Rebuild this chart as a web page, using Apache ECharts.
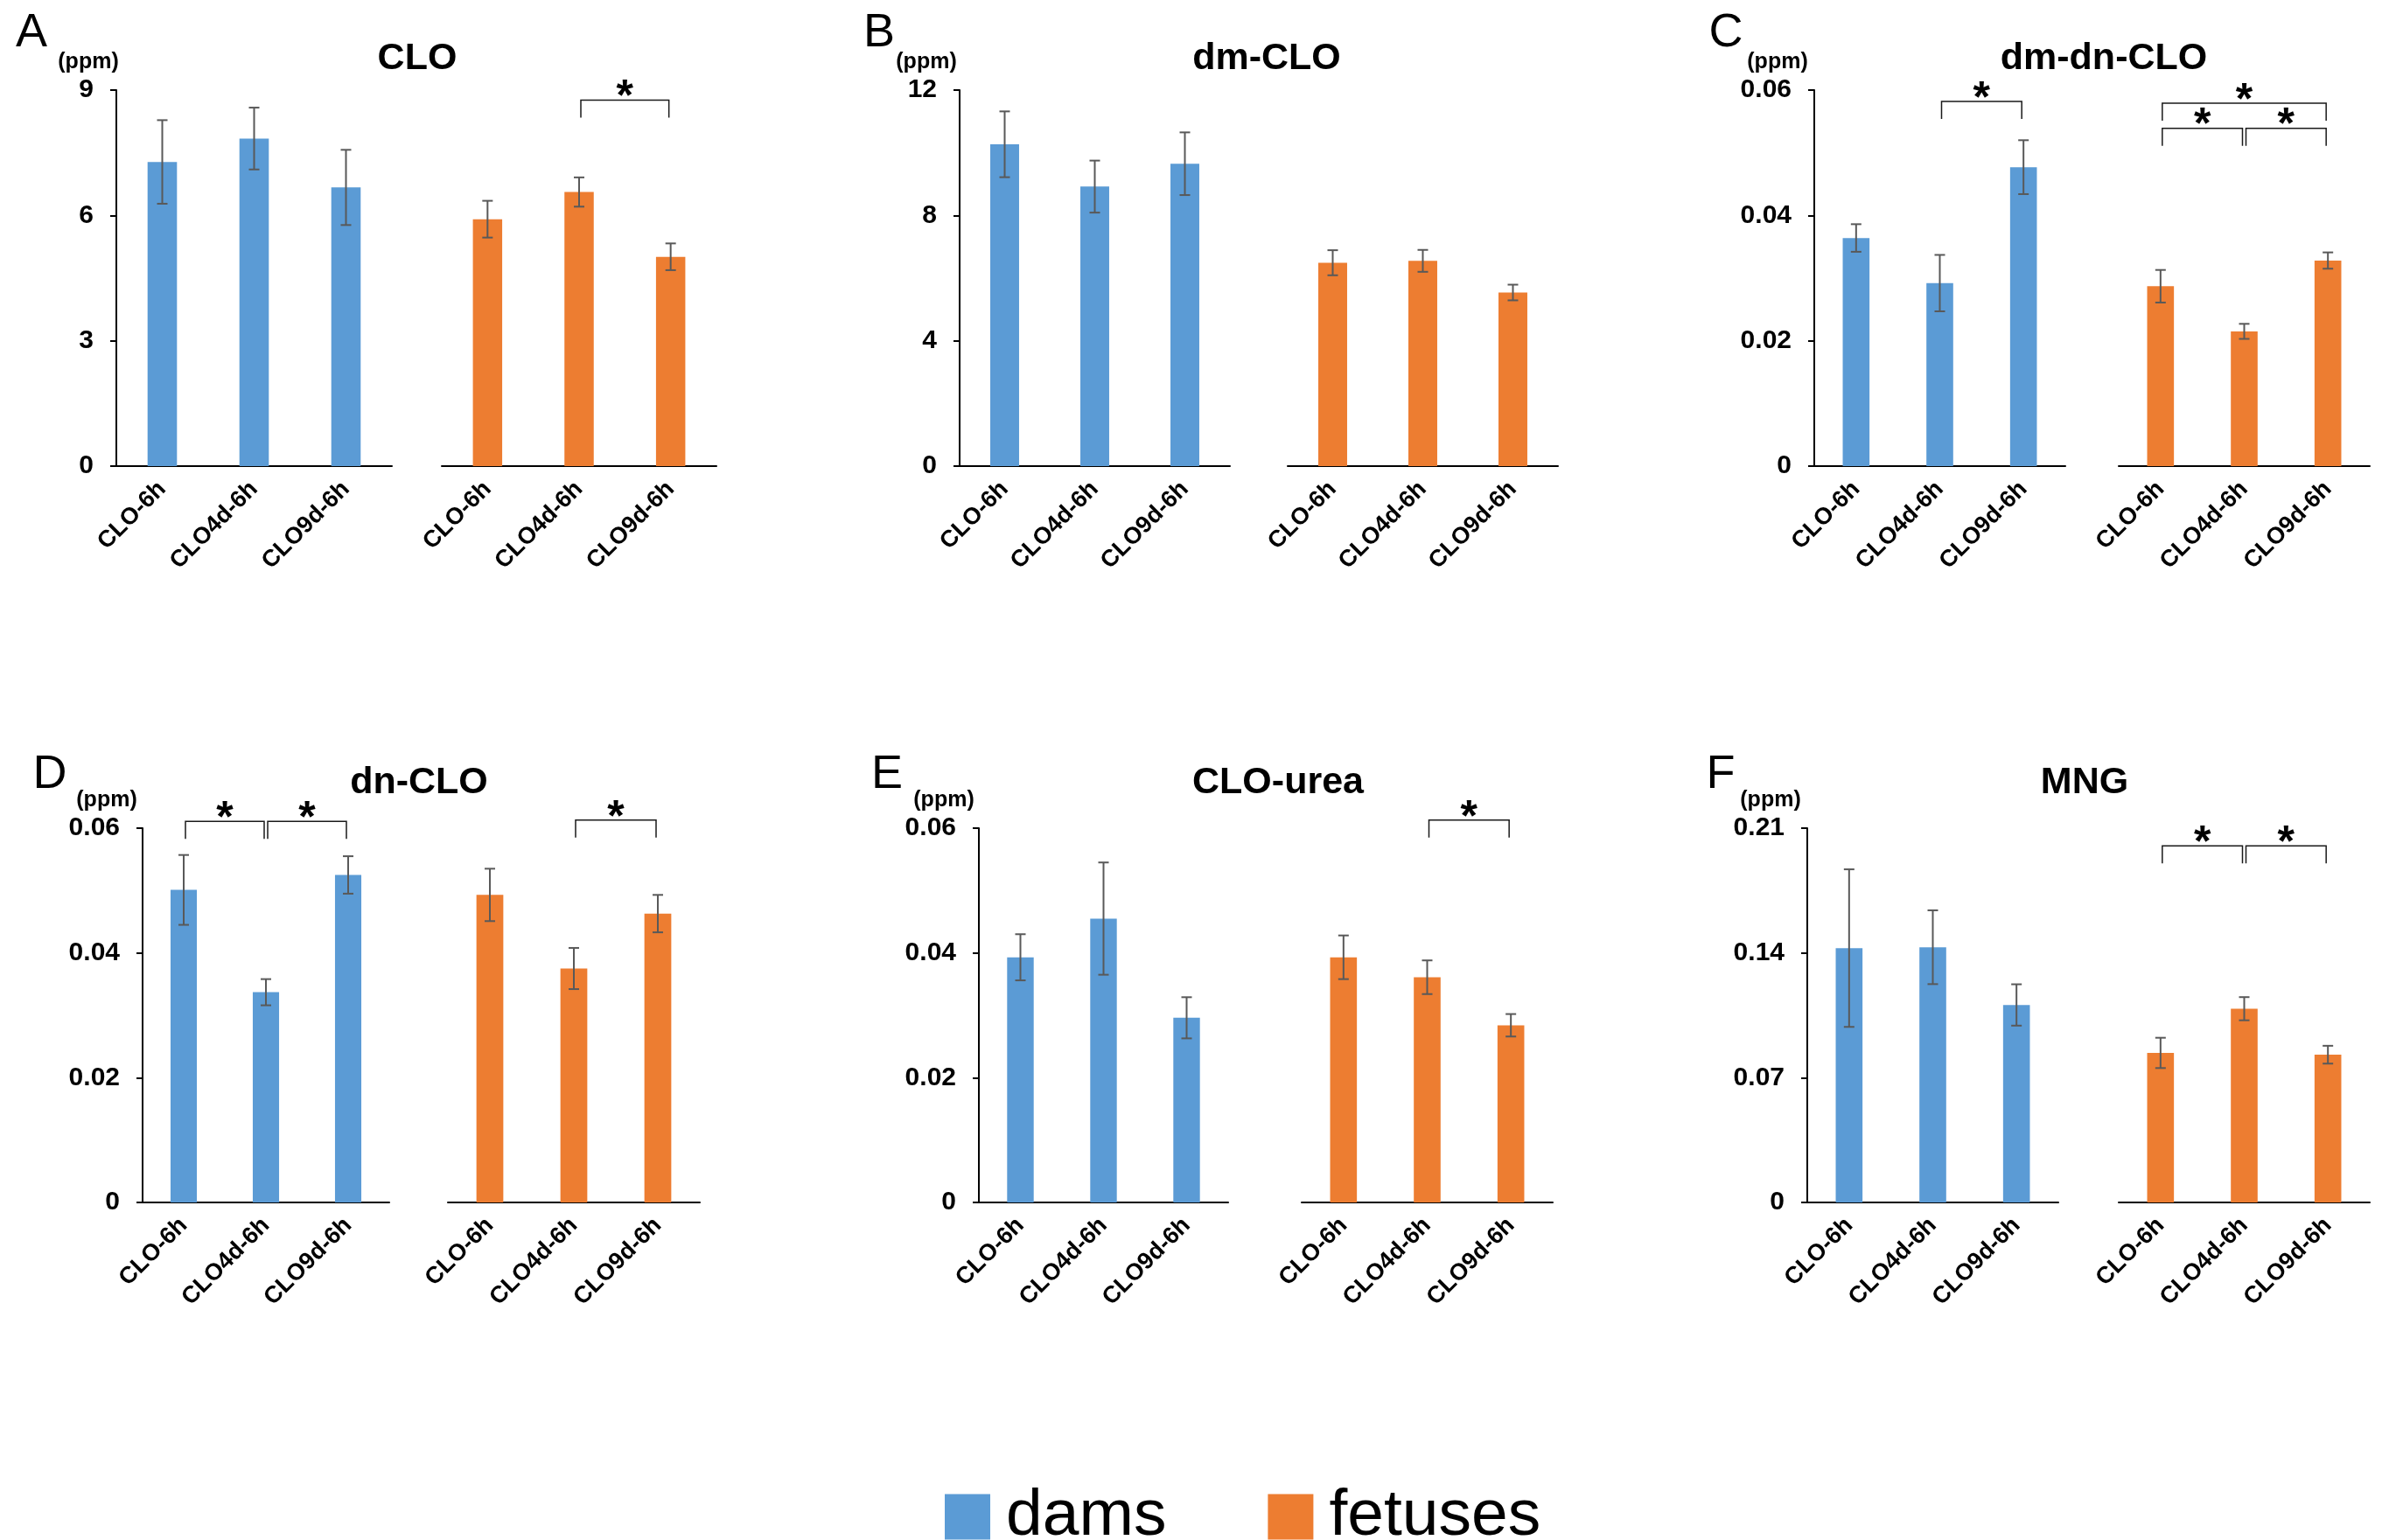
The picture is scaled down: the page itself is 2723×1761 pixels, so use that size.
<!DOCTYPE html>
<html>
<head>
<meta charset="utf-8">
<title>CLO metabolites in dams and fetuses</title>
<script src="https://cdn.jsdelivr.net/npm/echarts@6/dist/echarts.min.js"></script>
<style>
  html, body { margin: 0; padding: 0; background: #ffffff; }
  #chart { width: 2723px; height: 1761px; }
</style>
</head>
<body>
<div id="chart"></div>
<script>
// Groups on every x axis
const categories = ['CLO-6h', 'CLO4d-6h', 'CLO9d-6h'];
const groupNames = ['dams', 'fetuses'];

// Axis ranges (ppm): upper limit and tick step per panel
const axisMax  = [9, 12, 0.06, 0.06, 0.06, 0.21];
const axisStep = [3, 4, 0.02, 0.02, 0.02, 0.07];

// Panel titles and letters
const panelTitles  = ['CLO', 'dm-CLO', 'dm-dn-CLO', 'dn-CLO', 'CLO-urea', 'MNG'];
const panelLetters = ['A', 'B', 'C', 'D', 'E', 'F'];

// Means and error (ppm)
const cloDams        = [7.28, 7.84, 6.67];
const cloDamsErr     = [1.00, 0.74, 0.90];
const cloFetuses     = [5.91, 6.56, 5.01];
const cloFetusesErr  = [0.44, 0.35, 0.32];

const dmCloDams       = [10.27, 8.92, 9.65];
const dmCloDamsErr    = [1.05, 0.83, 1.00];
const dmCloFetuses    = [6.49, 6.55, 5.54];
const dmCloFetusesErr = [0.40, 0.35, 0.25];

const dmDnCloDams       = [0.0364, 0.0292, 0.0477];
const dmDnCloDamsErr    = [0.0022, 0.0045, 0.0043];
const dmDnCloFetuses    = [0.0287, 0.0215, 0.0328];
const dmDnCloFetusesErr = [0.0026, 0.0012, 0.0013];

const dnCloDams       = [0.0501, 0.0337, 0.0525];
const dnCloDamsErr    = [0.0056, 0.0021, 0.0030];
const dnCloFetuses    = [0.0493, 0.0375, 0.0463];
const dnCloFetusesErr = [0.0042, 0.0033, 0.0030];

const ureaDams       = [0.0393, 0.0455, 0.0296];
const ureaDamsErr    = [0.0037, 0.0090, 0.0033];
const ureaFetuses    = [0.0393, 0.0361, 0.0284];
const ureaFetusesErr = [0.0035, 0.0027, 0.0018];

const mngDams       = [0.1427, 0.1432, 0.1108];
const mngDamsErr    = [0.0442, 0.0207, 0.0116];
const mngFetuses    = [0.0839, 0.1087, 0.0829];
const mngFetusesErr = [0.0085, 0.0065, 0.0050];

// Significance brackets: [from group, to group, bracket height in ppm]
const cloFetusesSig     = [[1, 2, 8.76]];
const dmDnCloDamsSig    = [[1, 2, 0.0582]];
const dmDnCloFetusesSig = [[0, 2, 0.0579], [0, 1, 0.0539], [1, 2, 0.0539]];
const dnCloDamsSig      = [[0, 1, 0.0611], [1, 2, 0.0611]];
const dnCloFetusesSig   = [[1, 2, 0.0613]];
const ureaFetusesSig    = [[1, 2, 0.0613]];
const mngFetusesSig     = [[0, 1, 0.2001], [1, 2, 0.2001]];

const BLUE = '#5B9BD5';
const ORANGE = '#ED7D31';
const FONT = "'Liberation Sans', Arial, Helvetica, sans-serif";

// Where each panel sits on the page
const layouts = [
  { dams: [133, 315], fet: [505, 314], top: 103, h: 430, letter: [36, 38],   ppm: [101, 71],   title: [477, 67] },
  { dams: [1097, 309], fet: [1472, 309], top: 103, h: 430, letter: [1005, 38], ppm: [1059, 71],  title: [1448, 67] },
  { dams: [2074, 287], fet: [2422, 287], top: 103, h: 430, letter: [1973, 38], ppm: [2032, 71],  title: [2405, 67] },
  { dams: [163, 282], fet: [512, 288], top: 947, h: 428, letter: [57, 886],   ppm: [122, 915],  title: [479, 895] },
  { dams: [1119, 285], fet: [1488, 287], top: 947, h: 428, letter: [1014, 886], ppm: [1079, 915], title: [1461, 895] },
  { dams: [2066, 287], fet: [2422, 287], top: 947, h: 428, letter: [1967, 886], ppm: [2024, 915], title: [2383, 895] }
];

const panelData = [
  { dams: cloDams,     damsErr: cloDamsErr,     fet: cloFetuses,     fetErr: cloFetusesErr,     damsSig: [],             fetSig: cloFetusesSig },
  { dams: dmCloDams,   damsErr: dmCloDamsErr,   fet: dmCloFetuses,   fetErr: dmCloFetusesErr,   damsSig: [],             fetSig: [] },
  { dams: dmDnCloDams, damsErr: dmDnCloDamsErr, fet: dmDnCloFetuses, fetErr: dmDnCloFetusesErr, damsSig: dmDnCloDamsSig, fetSig: dmDnCloFetusesSig },
  { dams: dnCloDams,   damsErr: dnCloDamsErr,   fet: dnCloFetuses,   fetErr: dnCloFetusesErr,   damsSig: dnCloDamsSig,   fetSig: dnCloFetusesSig },
  { dams: ureaDams,    damsErr: ureaDamsErr,    fet: ureaFetuses,    fetErr: ureaFetusesErr,    damsSig: [],             fetSig: ureaFetusesSig },
  { dams: mngDams,     damsErr: mngDamsErr,     fet: mngFetuses,     fetErr: mngFetusesErr,     damsSig: [],             fetSig: mngFetusesSig }
];

function renderErrorBar(params, api) {
  const x = api.value(0), m = api.value(1), e = api.value(2);
  const hi = api.coord([x, m + e]);
  const lo = api.coord([x, m - e]);
  const cx = hi[0], cap = 6;
  const st = { stroke: '#595959', lineWidth: 2 };
  return {
    type: 'group',
    children: [
      { type: 'line', shape: { x1: cx, y1: hi[1], x2: cx, y2: lo[1] }, style: st },
      { type: 'line', shape: { x1: cx - cap, y1: hi[1], x2: cx + cap, y2: hi[1] }, style: st },
      { type: 'line', shape: { x1: cx - cap, y1: lo[1], x2: cx + cap, y2: lo[1] }, style: st }
    ]
  };
}

function renderBracket(params, api) {
  const a = api.coord([api.value(0), api.value(2)]);
  const b = api.coord([api.value(1), api.value(2)]);
  const leg = 20;
  const x1 = a[0] + 2, x2 = b[0] - 2, y = a[1];
  return {
    type: 'group',
    children: [
      { type: 'polyline', shape: { points: [[x1, y + leg], [x1, y], [x2, y], [x2, y + leg]] },
        style: { stroke: '#1a1a1a', lineWidth: 1.5, fill: null } },
      { type: 'text', style: { text: '*', x: (x1 + x2) / 2, y: y - 2, align: 'center', verticalAlign: 'middle',
        font: 'bold 50px ' + FONT, fill: '#000000' } }
    ]
  };
}

const fmt = v => String(+(+v).toFixed(4));

const grids = [], xAxes = [], yAxes = [], series = [], graphics = [];

layouts.forEach((L, p) => {
  const D = panelData[p];
  ['dams', 'fet'].forEach((side, s) => {
    const gi = grids.length;
    grids.push({ left: L[side][0], width: L[side][1], top: L.top, height: L.h, containLabel: false });
    xAxes.push({
      type: 'category', gridIndex: gi, data: categories,
      axisLine: { show: true, onZero: false, lineStyle: { color: '#000000', width: 2 } },
      axisTick: { show: false },
      axisLabel: { interval: 0, rotate: 45, margin: 22, color: '#000000',
        fontFamily: FONT, fontWeight: 'bold', fontSize: 27 },
      splitLine: { show: false }
    });
    yAxes.push({
      type: 'value', gridIndex: gi, min: 0, max: axisMax[p], interval: axisStep[p],
      show: s === 0,
      axisLine: { show: true, lineStyle: { color: '#000000', width: 2 } },
      axisTick: { show: true, length: 7, lineStyle: { color: '#000000', width: 2 } },
      axisLabel: { margin: 26, color: '#000000', fontFamily: FONT, fontWeight: 'bold', fontSize: 30, formatter: fmt },
      splitLine: { show: false }
    });
    const vals = s === 0 ? D.dams : D.fet;
    const errs = s === 0 ? D.damsErr : D.fetErr;
    const sig = s === 0 ? D.damsSig : D.fetSig;
    series.push({
      type: 'bar', name: groupNames[s], xAxisIndex: gi, yAxisIndex: gi,
      data: vals, barWidth: '32%',
      itemStyle: { color: s === 0 ? BLUE : ORANGE },
      z: 2
    });
    series.push({
      type: 'custom', xAxisIndex: gi, yAxisIndex: gi,
      data: vals.map((v, i) => [i, v, errs[i]]),
      encode: { x: 0, y: 1 },
      renderItem: renderErrorBar, z: 5, silent: true
    });
    if (sig.length) {
      series.push({
        type: 'custom', xAxisIndex: gi, yAxisIndex: gi, clip: false,
        data: sig,
        encode: { x: 0, y: 2 },
        renderItem: renderBracket, z: 6, silent: true
      });
    }
  });

  graphics.push({ type: 'text', x: L.letter[0], y: L.letter[1],
    style: { text: panelLetters[p], align: 'center', verticalAlign: 'middle', font: '54px ' + FONT, fill: '#000000' } });
  graphics.push({ type: 'text', x: L.ppm[0], y: L.ppm[1],
    style: { text: '(ppm)', align: 'center', verticalAlign: 'middle', font: 'bold 25px ' + FONT, fill: '#000000' } });
  graphics.push({ type: 'text', x: L.title[0], y: L.title[1],
    style: { text: panelTitles[p], align: 'center', verticalAlign: 'middle', font: 'bold 43px ' + FONT, fill: '#000000' } });
});

const chart = echarts.init(document.getElementById('chart'), null, { renderer: 'canvas' });
chart.setOption({
  backgroundColor: '#ffffff',
  animation: false,
  grid: grids,
  xAxis: xAxes,
  yAxis: yAxes,
  series: series,
  graphic: graphics,
  legend: {
    data: groupNames,
    left: 1080, top: 1697,
    orient: 'horizontal',
    icon: 'rect',
    itemWidth: 52, itemHeight: 52, itemGap: 116,
    selectedMode: false,
    padding: 0,
    textStyle: { fontFamily: FONT, fontSize: 75, color: '#000000', lineHeight: 52, padding: [0, 0, 0, 13] }
  }
});
</script>
</body>
</html>
